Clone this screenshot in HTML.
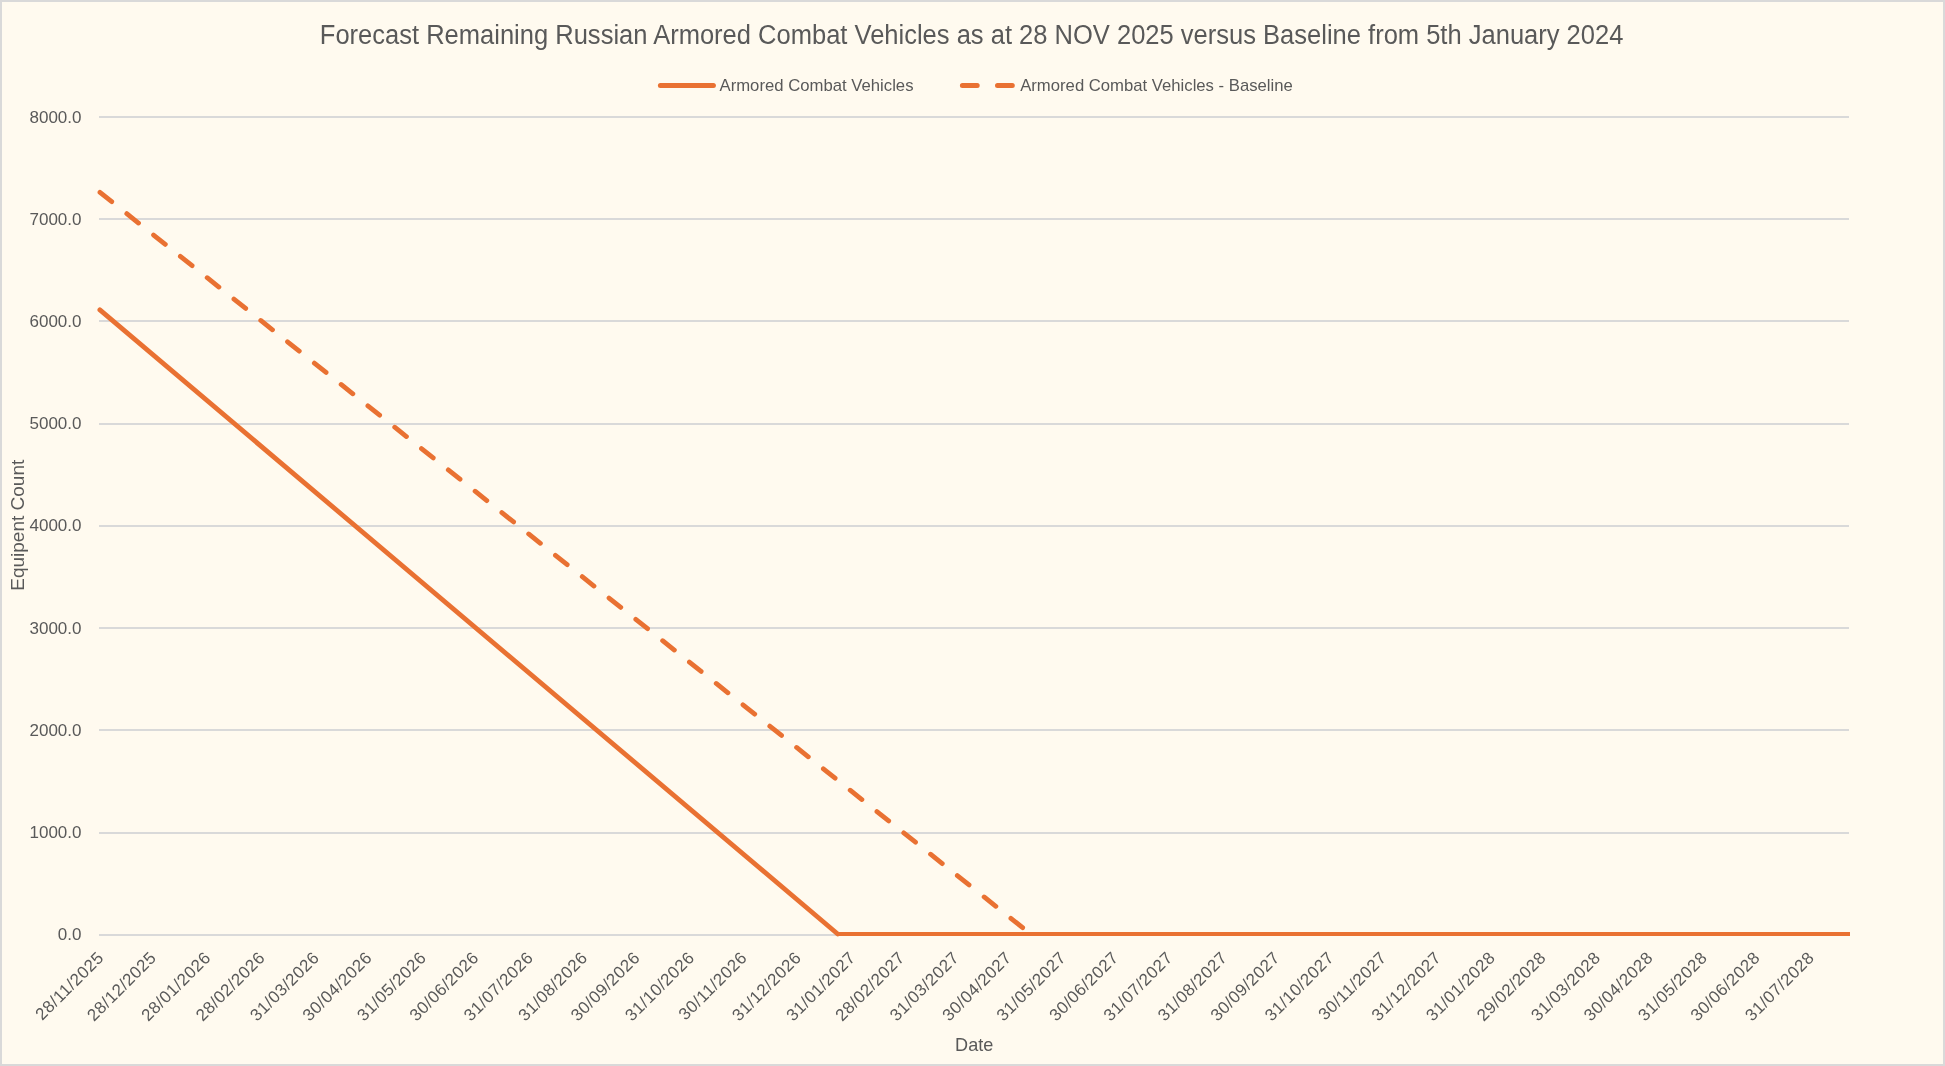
<!DOCTYPE html>
<html><head><meta charset="utf-8"><style>
html,body{margin:0;padding:0;background:#FFFAEF;}
svg{display:block;will-change:transform;}
text{font-family:"Liberation Sans",sans-serif;fill:#595959;}
.ax{font-size:17px;}
.xl{letter-spacing:0.45px;}
.ti{font-size:27px;}
.lg{font-size:16.4px;}
.at{font-size:18.5px;}
</style></head><body>
<svg width="1945" height="1066" viewBox="0 0 1945 1066">
<defs><clipPath id="pc"><rect x="90" y="100" width="1760" height="850"/></clipPath></defs>
<rect x="0" y="0" width="1945" height="1066" fill="#D9D9D9"/>
<rect x="2" y="2" width="1941" height="1062" fill="#FFFAEF"/>
<rect x="99" y="934" width="1750" height="2" fill="#D9D9D9"/>
<rect x="99" y="832" width="1750" height="2" fill="#D9D9D9"/>
<rect x="99" y="729" width="1750" height="2" fill="#D9D9D9"/>
<rect x="99" y="627" width="1750" height="2" fill="#D9D9D9"/>
<rect x="99" y="525" width="1750" height="2" fill="#D9D9D9"/>
<rect x="99" y="423" width="1750" height="2" fill="#D9D9D9"/>
<rect x="99" y="320" width="1750" height="2" fill="#D9D9D9"/>
<rect x="99" y="218" width="1750" height="2" fill="#D9D9D9"/>
<rect x="99" y="116" width="1750" height="2" fill="#D9D9D9"/>
<text x="81.5" y="940.00" text-anchor="end" class="ax">0.0</text>
<text x="81.5" y="837.86" text-anchor="end" class="ax">1000.0</text>
<text x="81.5" y="735.72" text-anchor="end" class="ax">2000.0</text>
<text x="81.5" y="633.58" text-anchor="end" class="ax">3000.0</text>
<text x="81.5" y="531.44" text-anchor="end" class="ax">4000.0</text>
<text x="81.5" y="429.30" text-anchor="end" class="ax">5000.0</text>
<text x="81.5" y="327.16" text-anchor="end" class="ax">6000.0</text>
<text x="81.5" y="225.02" text-anchor="end" class="ax">7000.0</text>
<text x="81.5" y="122.88" text-anchor="end" class="ax">8000.0</text>
<text transform="translate(104.80,958.65) rotate(-45)" text-anchor="end" class="ax xl">28/11/2025</text>
<text transform="translate(157.38,958.65) rotate(-45)" text-anchor="end" class="ax xl">28/12/2025</text>
<text transform="translate(211.70,958.65) rotate(-45)" text-anchor="end" class="ax xl">28/01/2026</text>
<text transform="translate(266.03,958.65) rotate(-45)" text-anchor="end" class="ax xl">28/02/2026</text>
<text transform="translate(320.36,958.65) rotate(-45)" text-anchor="end" class="ax xl">31/03/2026</text>
<text transform="translate(372.93,958.65) rotate(-45)" text-anchor="end" class="ax xl">30/04/2026</text>
<text transform="translate(427.26,958.65) rotate(-45)" text-anchor="end" class="ax xl">31/05/2026</text>
<text transform="translate(479.83,958.65) rotate(-45)" text-anchor="end" class="ax xl">30/06/2026</text>
<text transform="translate(534.16,958.65) rotate(-45)" text-anchor="end" class="ax xl">31/07/2026</text>
<text transform="translate(588.49,958.65) rotate(-45)" text-anchor="end" class="ax xl">31/08/2026</text>
<text transform="translate(641.07,958.65) rotate(-45)" text-anchor="end" class="ax xl">30/09/2026</text>
<text transform="translate(695.39,958.65) rotate(-45)" text-anchor="end" class="ax xl">31/10/2026</text>
<text transform="translate(747.97,958.65) rotate(-45)" text-anchor="end" class="ax xl">30/11/2026</text>
<text transform="translate(802.30,958.65) rotate(-45)" text-anchor="end" class="ax xl">31/12/2026</text>
<text transform="translate(856.62,958.65) rotate(-45)" text-anchor="end" class="ax xl">31/01/2027</text>
<text transform="translate(905.69,958.65) rotate(-45)" text-anchor="end" class="ax xl">28/02/2027</text>
<text transform="translate(960.02,958.65) rotate(-45)" text-anchor="end" class="ax xl">31/03/2027</text>
<text transform="translate(1012.60,958.65) rotate(-45)" text-anchor="end" class="ax xl">30/04/2027</text>
<text transform="translate(1066.92,958.65) rotate(-45)" text-anchor="end" class="ax xl">31/05/2027</text>
<text transform="translate(1119.50,958.65) rotate(-45)" text-anchor="end" class="ax xl">30/06/2027</text>
<text transform="translate(1173.82,958.65) rotate(-45)" text-anchor="end" class="ax xl">31/07/2027</text>
<text transform="translate(1228.15,958.65) rotate(-45)" text-anchor="end" class="ax xl">31/08/2027</text>
<text transform="translate(1280.73,958.65) rotate(-45)" text-anchor="end" class="ax xl">30/09/2027</text>
<text transform="translate(1335.05,958.65) rotate(-45)" text-anchor="end" class="ax xl">31/10/2027</text>
<text transform="translate(1387.63,958.65) rotate(-45)" text-anchor="end" class="ax xl">30/11/2027</text>
<text transform="translate(1441.96,958.65) rotate(-45)" text-anchor="end" class="ax xl">31/12/2027</text>
<text transform="translate(1496.28,958.65) rotate(-45)" text-anchor="end" class="ax xl">31/01/2028</text>
<text transform="translate(1547.11,958.65) rotate(-45)" text-anchor="end" class="ax xl">29/02/2028</text>
<text transform="translate(1601.43,958.65) rotate(-45)" text-anchor="end" class="ax xl">31/03/2028</text>
<text transform="translate(1654.01,958.65) rotate(-45)" text-anchor="end" class="ax xl">30/04/2028</text>
<text transform="translate(1708.34,958.65) rotate(-45)" text-anchor="end" class="ax xl">31/05/2028</text>
<text transform="translate(1760.91,958.65) rotate(-45)" text-anchor="end" class="ax xl">30/06/2028</text>
<text transform="translate(1815.24,958.65) rotate(-45)" text-anchor="end" class="ax xl">31/07/2028</text>
<line x1="99.9" y1="309.9" x2="837.7" y2="934.0" stroke="#E97132" stroke-width="4.8" stroke-linecap="round"/>
<rect x="837.7" y="932" width="1012.30" height="4" fill="#E97132"/>
<polyline points="100.0,192.3 1030.61,934.0" fill="none" stroke="#E97132" stroke-width="4.8" stroke-linejoin="round" stroke-linecap="round" stroke-dasharray="15 19.26"/>
<text x="319.8" y="43.8" class="ti" textLength="1303.6" lengthAdjust="spacingAndGlyphs">Forecast Remaining Russian Armored Combat Vehicles as at 28 NOV 2025 versus Baseline from 5th January 2024</text>
<line x1="660.4" y1="85.5" x2="713.4" y2="85.5" stroke="#E97132" stroke-width="5" stroke-linecap="round"/>
<text x="719.5" y="90.7" class="lg" textLength="194" lengthAdjust="spacingAndGlyphs">Armored Combat Vehicles</text>
<line x1="962.4" y1="85.5" x2="1014" y2="85.5" stroke="#E97132" stroke-width="5" stroke-linecap="round" stroke-dasharray="14.8 20.3"/>
<text x="1020.2" y="90.7" class="lg" textLength="272.6" lengthAdjust="spacingAndGlyphs">Armored Combat Vehicles - Baseline</text>
<text x="955.1" y="1050.8" class="at" textLength="38.2" lengthAdjust="spacingAndGlyphs">Date</text>
<text transform="translate(24.1,590.8) rotate(-90)" class="at" textLength="131.1" lengthAdjust="spacingAndGlyphs">Equipent Count</text>
</svg>
</body></html>
